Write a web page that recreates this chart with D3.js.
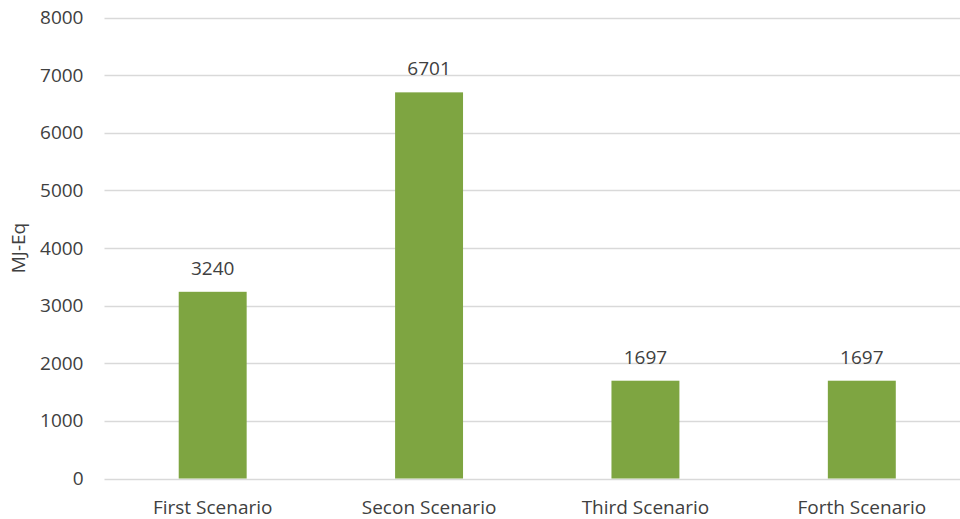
<!DOCTYPE html>
<html>
<head>
<meta charset="utf-8">
<script src="https://cdn.jsdelivr.net/npm/d3@7"></script>
<style>
  html, body { margin: 0; padding: 0; background: #fff; }
  svg { display: block; }
  text { font-family: "Open Sans", Lato, sans-serif; fill: #404040; }
</style>
</head>
<body>
<svg id="chart" width="960" height="519"></svg>
<script>
const categories = ["First Scenario", "Secon Scenario", "Third Scenario", "Forth Scenario"];
const values = [3240, 6701, 1697, 1697];
const yTicks = [0, 1000, 2000, 3000, 4000, 5000, 6000, 7000, 8000];
const yTitle = "MJ-Eq";

const FONT = "'Open Sans', Lato, sans-serif";
const FS = 19;
const svg = d3.select("#chart");
const margin = { left: 104.5, right: -10, top: 17.5, bottom: 40 };
const W = 960, H = 519;

const x = d3.scaleBand()
  .domain(categories)
  .range([margin.left, W - margin.right])
  .paddingInner(0.686)
  .paddingOuter(0.343);

const y = d3.scaleLinear()
  .domain([0, 8000])
  .range([H - margin.bottom - 0.5, margin.top]);

// gridlines
svg.append("g")
  .selectAll("line")
  .data(yTicks)
  .join("line")
  .attr("x1", margin.left)
  .attr("x2", W)
  .attr("y1", d => Math.round(y(d)) + 0.5)
  .attr("y2", d => Math.round(y(d)) + 0.5)
  .attr("stroke", "#d9d9d9")
  .attr("stroke-width", 1.3);

// y axis tick labels
const yAxis = d3.axisLeft(y).tickValues(yTicks).tickFormat(d3.format("d")).tickSize(0).tickPadding(21);
const ga = svg.append("g").attr("transform", `translate(${margin.left},0)`).call(yAxis);
ga.select(".domain").remove();
ga.selectAll("text")
  .attr("font-size", FS)
  .style("font-family", FONT)
  .attr("fill", "#404040");

// bars
svg.append("g")
  .selectAll("rect")
  .data(values)
  .join("rect")
  .attr("x", (d, i) => x(categories[i]))
  .attr("width", x.bandwidth())
  .attr("y", d => y(d))
  .attr("height", d => y(0) - y(d))
  .attr("fill", "#7ea541");

// value labels
svg.append("g")
  .selectAll("text")
  .data(values)
  .join("text")
  .attr("x", (d, i) => x(categories[i]) + x.bandwidth() / 2)
  .attr("y", d => y(d) - 17)
  .attr("text-anchor", "middle")
  .attr("font-size", FS)
  .text(d => d);

// x axis category labels
const xAxis = d3.axisBottom(x).tickSize(0).tickPadding(22);
const gx = svg.append("g").attr("transform", `translate(0,${y(0)})`).call(xAxis);
gx.select(".domain").remove();
gx.selectAll("text")
  .attr("font-size", FS)
  .style("font-family", FONT)
  .attr("fill", "#404040");

// y axis title
svg.append("text")
  .attr("transform", `translate(25,${(y(0) + y(8000)) / 2}) rotate(-90)`)
  .attr("text-anchor", "middle")
  .attr("font-size", FS)
  .text(yTitle);
</script>
</body>
</html>
